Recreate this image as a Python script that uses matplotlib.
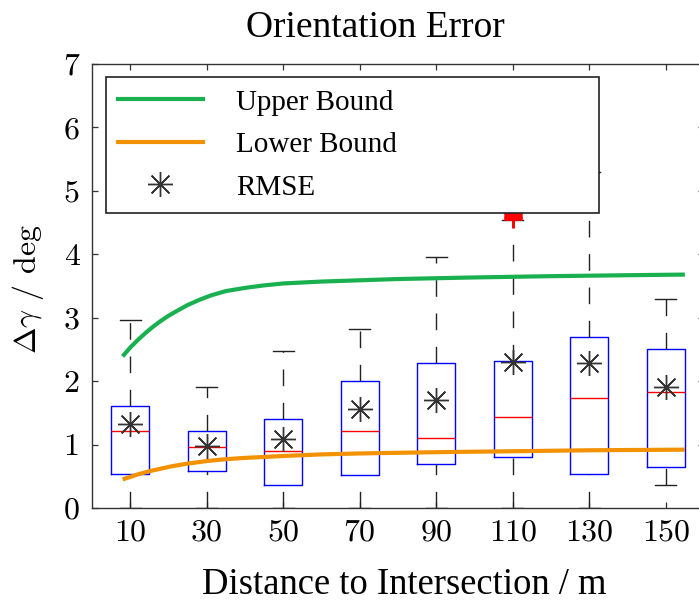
import matplotlib
matplotlib.use("Agg")
import matplotlib.pyplot as plt
from matplotlib.lines import Line2D

plt.rcParams['mathtext.fontset'] = 'cm'

# ---- data ----
distances = [10, 30, 50, 70, 90, 110, 130, 150]
xticklabels = ['10', '30', '50', '70', '90', '110', '130', '150']
q1 = [0.535, 0.58, 0.37, 0.52, 0.70, 0.81, 0.54, 0.64]
med = [1.22, 0.96, 0.90, 1.22, 1.10, 1.44, 1.73, 1.83]
q3 = [1.61, 1.21, 1.41, 2.00, 2.29, 2.31, 2.70, 2.51]
whislo = [0.0, 0.0, 0.0, 0.0, 0.0, 0.0, 0.0, 0.37]
whishi = [2.97, 1.91, 2.48, 2.82, 3.96, 4.54, 5.30, 3.29]
outliers = [[], [], [], [], [],
            [4.55, 4.57, 4.59, 4.61, 4.63, 4.65, 4.67, 4.72, 4.85, 5.05],
            [], []]
rmse = [1.33, 0.98, 1.09, 1.56, 1.70, 2.30, 2.29, 1.91]

upper_d = [8, 10, 12, 14, 16, 18, 20, 22, 25, 28, 31, 35, 40, 45, 50, 60, 70, 80,
           100, 120, 140, 155]
upper_v = [2.39, 2.53, 2.65, 2.76, 2.86, 2.95, 3.03, 3.10, 3.20, 3.28, 3.35, 3.42,
           3.47, 3.51, 3.54, 3.57, 3.59, 3.61, 3.635, 3.655, 3.67, 3.68]
lower_d = [8, 10, 12, 15, 18, 21, 25, 30, 35, 40, 50, 60, 70, 90, 110, 130, 155]
lower_v = [0.45, 0.49, 0.53, 0.58, 0.62, 0.66, 0.70, 0.74, 0.77, 0.79, 0.82, 0.845,
           0.86, 0.88, 0.895, 0.91, 0.92]

yticks = [0, 1, 2, 3, 4, 5, 6, 7]

GREEN = '#19b14f'
ORANGE = '#f39200'
SERIF = ['Liberation Serif', 'DejaVu Serif']
CM = ['cmr10', 'DejaVu Serif']

fig = plt.figure(figsize=(6.99, 6.03), dpi=100)
ax = fig.add_axes([92 / 699, 95 / 603, 612 / 699, 444 / 603])

stats = []
for i in range(len(distances)):
    stats.append(dict(med=med[i], q1=q1[i], q3=q3[i], whislo=whislo[i],
                      whishi=whishi[i], fliers=outliers[i]))

bp = ax.bxp(stats, positions=distances, widths=10, capwidths=5.5,
            showfliers=True, manage_ticks=False,
            boxprops=dict(color='#0000ff', linewidth=1.0),
            medianprops=dict(color='#ff0000', linewidth=1.0),
            whiskerprops=dict(color='#222222', linewidth=1.0, linestyle=(0, (12, 12))),
            capprops=dict(color='#222222', linewidth=1.0),
            flierprops=dict(marker='+', markeredgecolor='#ff0000', markersize=13,
                            markeredgewidth=2.0, linestyle='none'))
# draw lower whiskers starting from their end (dash phase like the reference)
for k, w in enumerate(bp['whiskers']):
    if k % 2 == 0:
        xd, yd = w.get_data()
        w.set_data(list(xd)[::-1], list(yd)[::-1])

ax.plot(upper_d, upper_v, color=GREEN, linewidth=3, solid_capstyle='butt',
        solid_joinstyle='round', zorder=3)
ax.plot(lower_d, lower_v, color=ORANGE, linewidth=3, solid_capstyle='butt',
        solid_joinstyle='round', zorder=3)
ax.plot(distances, rmse, linestyle='none', marker=(8, 2, 0), markersize=18,
        markeredgewidth=1.0, color='#333333', zorder=4)

ax.set_xlim(0, 160)
ax.set_ylim(0, 7)
ax.set_xticks(distances, labels=xticklabels)
ax.set_yticks(yticks, labels=[str(v) for v in yticks])
ax.tick_params(axis='both', direction='in', length=4, width=0.9, color='#333333',
               top=True, right=True, labelsize=23)
ax.tick_params(axis='y', pad=9)
ax.tick_params(axis='x', pad=8)
for lab in ax.get_xticklabels() + ax.get_yticklabels():
    lab.set_fontfamily(CM)
for sp in ax.spines.values():
    sp.set_linewidth(1.0)
    sp.set_color('#333333')

handles = [Line2D([], [], color=GREEN, linewidth=3),
           Line2D([], [], color=ORANGE, linewidth=3),
           Line2D([], [], linestyle='none', marker=(8, 2, 0), markersize=18,
                  markeredgewidth=1.0, color='#333333')]
leg = ax.legend(handles, ['Upper Bound', 'Lower Bound', 'RMSE'],
                loc='upper left', bbox_to_anchor=(0.0224, 0.5, 0.806, 0.4707),
                mode='expand', borderaxespad=0, fancybox=False, framealpha=1,
                edgecolor='#222222', prop=dict(family=SERIF, size=21),
                handlelength=2.9, handletextpad=1.15, labelspacing=0.55,
                borderpad=0.42)
leg.get_frame().set_linewidth(1.2)
leg.set_zorder(10)

fig.text(375 / 699, 1 - 28 / 603, 'Orientation Error', ha='center', va='center',
         fontsize=27, family=SERIF)
fig.text(404 / 699, 1 - 585 / 603, 'Distance to Intersection / m', ha='center',
         va='center', fontsize=26.4, family=SERIF)
fig.text(28 / 699, 1 - 289 / 603, r'$\Delta\gamma$ / deg', ha='center', va='center',
         rotation=90, fontsize=23, family=CM)

fig.savefig('out.png', dpi=100)
